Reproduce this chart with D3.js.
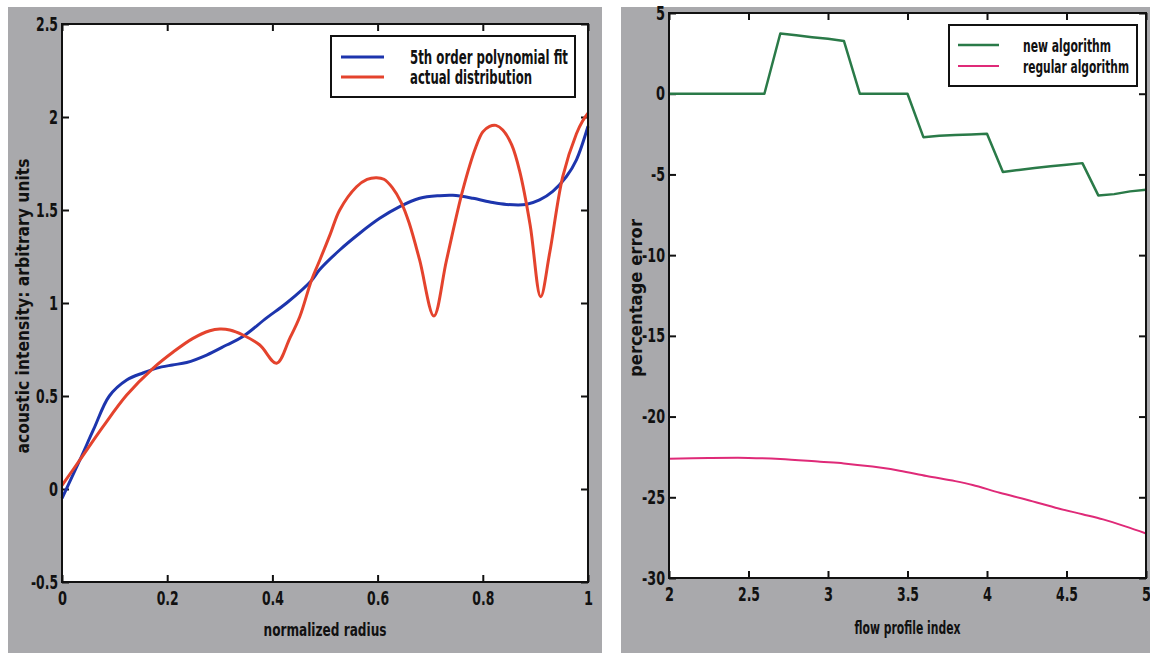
<!DOCTYPE html>
<html>
<head>
<meta charset="utf-8">
<script src="https://cdn.jsdelivr.net/npm/d3@7"></script>
<style>
  body { margin: 0; background: #fff; }
  text { font-family: "Liberation Sans Narrow", "Arial Narrow", "DejaVu Sans Condensed", sans-serif; font-weight: bold; fill: #111; }
</style>
</head>
<body>
<div id="chart"></div>
<script>
// ---- left chart data ----
const polyX = [0, 0.034, 0.06, 0.09, 0.123, 0.155, 0.18, 0.21, 0.237, 0.275, 0.313, 0.344, 0.389, 0.427, 0.474, 0.49, 0.528, 0.566, 0.604, 0.642, 0.68, 0.718, 0.743, 0.781, 0.819, 0.845, 0.882, 0.908, 0.933, 0.959, 0.978, 1.0];
const polyY = [-0.05, 0.156, 0.32, 0.5, 0.586, 0.625, 0.65, 0.667, 0.68, 0.72, 0.774, 0.82, 0.92, 1.0, 1.12, 1.18, 1.285, 1.375, 1.455, 1.518, 1.563, 1.577, 1.579, 1.563, 1.54, 1.53, 1.53, 1.554, 1.6, 1.68, 1.77, 1.95];
const actualX = [0, 0.034, 0.078, 0.123, 0.173, 0.212, 0.249, 0.281, 0.3, 0.319, 0.344, 0.376, 0.408, 0.433, 0.452, 0.474, 0.49, 0.51, 0.528, 0.56, 0.58, 0.598, 0.612, 0.628, 0.645, 0.66, 0.68, 0.707, 0.731, 0.762, 0.787, 0.8, 0.813, 0.825, 0.838, 0.855, 0.87, 0.89, 0.91, 0.927, 0.952, 0.978, 0.99, 1.0];
const actualY = [0.02, 0.156, 0.335, 0.505, 0.649, 0.738, 0.81, 0.851, 0.86, 0.855, 0.828, 0.774, 0.676, 0.81, 0.926, 1.12, 1.23, 1.37, 1.5, 1.625, 1.665, 1.674, 1.665, 1.62, 1.54, 1.43, 1.23, 0.93, 1.23, 1.608, 1.84, 1.92, 1.95, 1.955, 1.93, 1.85, 1.71, 1.42, 1.034, 1.267, 1.68, 1.91, 1.98, 2.02];
const leftXTicks = [0, 0.2, 0.4, 0.6, 0.8, 1];
const leftYTicks = [-0.5, 0, 0.5, 1, 1.5, 2, 2.5];
const leftSeries = ["5th order polynomial fit", "actual distribution"];

// ---- right chart data ----
const newAlgX = [2, 2.1, 2.2, 2.3, 2.4, 2.5, 2.6, 2.7, 2.8, 2.9, 3.0, 3.1, 3.2, 3.3, 3.4, 3.5, 3.6, 3.7, 3.8, 3.9, 4.0, 4.1, 4.2, 4.3, 4.4, 4.5, 4.6, 4.7, 4.8, 4.9, 5.0];
const newAlgY = [0, 0, 0, 0, 0, 0, 0, 3.73, 3.62, 3.5, 3.4, 3.27, 0, 0, 0, 0, -2.69, -2.6, -2.55, -2.52, -2.48, -4.85, -4.72, -4.6, -4.5, -4.4, -4.3, -6.3, -6.22, -6.05, -5.95];
const regAlgX = [2.0, 2.25, 2.5, 2.7, 2.95, 3.1, 3.28, 3.45, 3.62, 3.8, 3.91, 4.08, 4.25, 4.45, 4.6, 4.73, 4.87, 5.0];
const regAlgY = [-22.62, -22.57, -22.56, -22.63, -22.8, -22.9, -23.1, -23.35, -23.68, -24.0, -24.24, -24.72, -25.15, -25.69, -26.05, -26.37, -26.8, -27.24];
const rightXTicks = [2, 2.5, 3, 3.5, 4, 4.5, 5];
const rightYTicks = [-30, -25, -20, -15, -10, -5, 0, 5];
const rightSeries = ["new algorithm", "regular algorithm"];

const width = 1150, height = 656;
const grey = "#a9a9ac";

const svg = d3.select("#chart").append("svg")
    .attr("width", width)
    .attr("height", height);

svg.append("rect").attr("width", width).attr("height", height).attr("fill", "#fff");

// squeezed width of a tick label, the print uses a very narrow face
function labelWidth(s) {
    let w = 0;
    for (const c of s) w += c === "." ? 4 : c === "-" ? 5 : 9;
    return w;
}

// draws one framed plot with inward ticks on all four sides
function drawPanel(cfg) {
    svg.append("rect")
        .attr("x", cfg.panel[0]).attr("y", cfg.panel[1])
        .attr("width", cfg.panel[2]).attr("height", cfg.panel[3])
        .attr("fill", grey);

    const x = d3.scaleLinear().domain(cfg.xDomain).range([cfg.left, cfg.right]);
    const y = d3.scaleLinear().domain(cfg.yDomain).range([cfg.bottom, cfg.top]);

    svg.append("rect")
        .attr("x", cfg.left).attr("y", cfg.top)
        .attr("width", cfg.right - cfg.left).attr("height", cfg.bottom - cfg.top)
        .attr("fill", "#fff");

    const g = svg.append("g");

    const fmt = d => String(d);
    g.append("g").attr("transform", `translate(0,${cfg.bottom})`)
        .call(d3.axisBottom(x).tickValues(cfg.xTicks).tickFormat(fmt).tickSizeInner(-7).tickSizeOuter(0).tickPadding(10));
    g.append("g").attr("transform", `translate(0,${cfg.top})`)
        .call(d3.axisTop(x).tickValues(cfg.xTicks).tickFormat("").tickSizeInner(-7).tickSizeOuter(0));
    g.append("g").attr("transform", `translate(${cfg.left},0)`)
        .call(d3.axisLeft(y).tickValues(cfg.yTicks).tickFormat(fmt).tickSizeInner(-7).tickSizeOuter(0).tickPadding(4));
    g.append("g").attr("transform", `translate(${cfg.right},0)`)
        .call(d3.axisRight(y).tickValues(cfg.yTicks).tickFormat("").tickSizeInner(-7).tickSizeOuter(0));

    g.selectAll(".domain").remove();
    g.selectAll(".tick line").attr("stroke", "#111").attr("stroke-width", 2);
    g.selectAll(".tick text")
        .attr("fill", "#111")
        .style("font-size", "19px")
        .filter(function () { return this.textContent !== ""; })
        .attr("textLength", function () { return labelWidth(this.textContent); })
        .attr("lengthAdjust", "spacingAndGlyphs");

    // series lines
    cfg.series.forEach(s => {
        const pts = s.xs.map((v, i) => [v, s.ys[i]]);
        svg.append("path")
            .datum(pts)
            .attr("fill", "none")
            .attr("stroke", s.color)
            .attr("stroke-width", s.width)
            .attr("stroke-linejoin", "round")
            .attr("d", d3.line().curve(s.curve).x(d => x(d[0])).y(d => y(d[1])));
    });

    // frame
    svg.append("rect")
        .attr("x", cfg.left).attr("y", cfg.top)
        .attr("width", cfg.right - cfg.left).attr("height", cfg.bottom - cfg.top)
        .attr("fill", "none").attr("stroke", "#111").attr("stroke-width", 2);

    // axis titles
    svg.append("text")
        .attr("x", (cfg.left + cfg.right) / 2).attr("y", cfg.xTitleY)
        .attr("text-anchor", "middle")
        .attr("textLength", cfg.xTitleLen).attr("lengthAdjust", "spacingAndGlyphs")
        .style("font-size", "17px")
        .text(cfg.xTitle);
    svg.append("text")
        .attr("transform", `translate(${cfg.yTitleX},${cfg.yTitleC}) rotate(-90)`)
        .attr("text-anchor", "middle")
        .attr("textLength", cfg.yTitleLen).attr("lengthAdjust", "spacingAndGlyphs")
        .style("font-size", "18px")
        .text(cfg.yTitle);

    // legend
    const lg = cfg.legend;
    svg.append("rect")
        .attr("x", lg.x).attr("y", lg.y).attr("width", lg.w).attr("height", lg.h)
        .attr("fill", "#fff").attr("stroke", "#111").attr("stroke-width", 2);
    cfg.series.forEach((s, i) => {
        const ly = lg.y + lg.first + i * lg.step;
        svg.append("line")
            .attr("x1", lg.x + lg.lineX0).attr("x2", lg.x + lg.lineX1)
            .attr("y1", ly).attr("y2", ly)
            .attr("stroke", s.color).attr("stroke-width", s.width);
        svg.append("text")
            .attr("x", lg.x + lg.textX).attr("y", ly + 7)
            .attr("textLength", lg.lens[i]).attr("lengthAdjust", "spacingAndGlyphs")
            .style("font-size", lg.size + "px")
            .text(cfg.names[i]);
    });
}

drawPanel({
    panel: [8, 7, 594, 646],
    left: 62, right: 588, top: 24, bottom: 582,
    xDomain: [0, 1], yDomain: [-0.5, 2.5],
    xTicks: leftXTicks, yTicks: leftYTicks,
    names: leftSeries,
    series: [
        { xs: polyX, ys: polyY, color: "#1d35ad", width: 3, curve: d3.curveCatmullRom },
        { xs: actualX, ys: actualY, color: "#e4432d", width: 3, curve: d3.curveCatmullRom }
    ],
    xTitle: "normalized radius", xTitleY: 636, xTitleLen: 123,
    yTitle: "acoustic intensity: arbitrary units", yTitleX: 29, yTitleC: 306, yTitleLen: 295,
    legend: { x: 331, y: 36, w: 244, h: 61, first: 21, step: 20, lineX0: 10, lineX1: 53, textX: 79, lens: [158, 122], size: 19 }
});

drawPanel({
    panel: [621, 7, 540, 646],
    left: 669, right: 1146, top: 13, bottom: 578,
    xDomain: [2, 5], yDomain: [-30, 5],
    xTicks: rightXTicks, yTicks: rightYTicks,
    names: rightSeries,
    series: [
        { xs: newAlgX, ys: newAlgY, color: "#2a7a48", width: 2.5, curve: d3.curveLinear },
        { xs: regAlgX, ys: regAlgY, color: "#df2a78", width: 2, curve: d3.curveCatmullRom }
    ],
    xTitle: "flow profile index", xTitleY: 634, xTitleLen: 106,
    yTitle: "percentage error", yTitleX: 642, yTitleC: 298, yTitleLen: 158,
    legend: { x: 949, y: 25, w: 188, h: 61, first: 20, step: 21, lineX0: 9, lineX1: 50, textX: 74, lens: [88, 106], size: 17 }
});
</script>
</body>
</html>
